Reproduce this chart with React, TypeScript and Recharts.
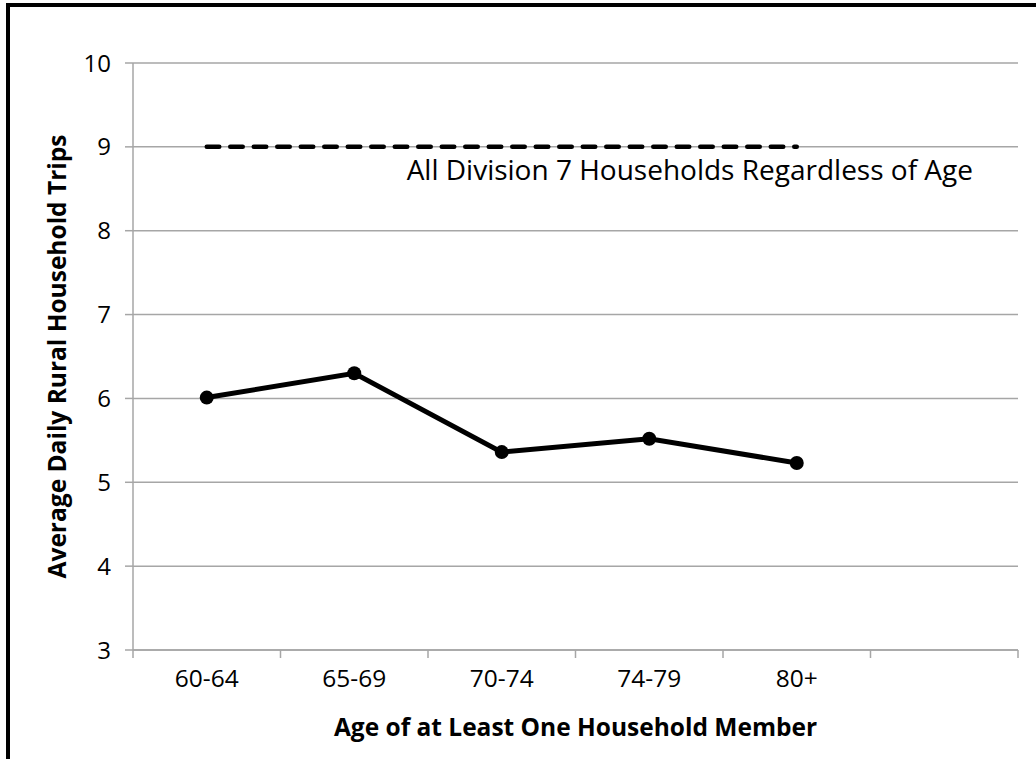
import { CartesianGrid, Label, Line, LineChart, ReferenceLine, XAxis, YAxis } from "recharts"

const ageGroups = ["60-64", "65-69", "70-74", "74-79", "80+", ""]
const avgTrips = [6.01, 6.3, 5.36, 5.52, 5.23, null]
const allHouseholds = [9, 9, 9, 9, 9, null]
const yTicks = [3, 4, 5, 6, 7, 8, 9, 10]
const bandEdges = [0, 1, 2, 3, 4, 5, 6]

const data = ageGroups.map((age, i) => ({
  age,
  slot: i,
  trips: avgTrips[i],
  all: allHouseholds[i],
}))

const FONT = "'Open Sans', sans-serif"
const GRID = "#a6a6a6"

export default function App() {
  return (
    <div style={{ position: "fixed", left: 0, top: 0, width: 1036, height: 759, overflow: "hidden", background: "#fff" }}>
      <div style={{ position: "absolute", left: 6, top: 3, width: 1200, height: 1000, border: "4px solid #000", boxSizing: "border-box" }} />
      <div style={{ position: "absolute", left: 0, top: 0 }}>
        <LineChart width={1036} height={759} data={data} margin={{ top: 63, right: 18, bottom: 18, left: 23 }} style={{ fontFamily: FONT }}>
          <CartesianGrid xAxisId="axis" vertical={false} stroke={GRID} strokeWidth={1.5} />
          {/* axis line and tick marks on the category boundaries */}
          <XAxis
            xAxisId="axis"
            dataKey="slot"
            type="number"
            domain={[0, 6]}
            ticks={bandEdges}
            allowDataOverflow
            height={1}
            stroke={GRID}
            strokeWidth={1.5}
            tickSize={8}
            tickFormatter={() => ""}
          />
          <XAxis
            xAxisId="labels"
            dataKey="age"
            height={90}
            padding={{ left: 73.75, right: 73.75 }}
            axisLine={false}
            tickLine={false}
            tick={{ fill: "#000", fontSize: 24.5 }}
            tickMargin={13}
            interval={0}
          >
            <Label value="Age of at Least One Household Member" position="insideBottom" offset={5} fill="#000" fontSize={24.5} fontWeight="bold" />
          </XAxis>
          <YAxis
            domain={[3, 10]}
            ticks={yTicks}
            width={110}
            stroke={GRID}
            strokeWidth={1.5}
            tickSize={8}
            tickMargin={14}
            tick={{ fill: "#000", fontSize: 24 }}
          >
            <Label value="Average Daily Rural Household Trips" angle={-90} position="insideLeft" offset={34} fill="#000" fontSize={24.5} fontWeight="bold" style={{ textAnchor: "middle" }} />
          </YAxis>
          <ReferenceLine
            xAxisId="labels"
            y={9}
            stroke="none"
            label={({ viewBox }: any) => (
              <text x={viewBox.x + viewBox.width - 45} y={viewBox.y + 33} textAnchor="end" fill="#000" fontSize={28} fontFamily={FONT}>
                All Division 7 Households Regardless of Age
              </text>
            )}
          />
          <Line
            xAxisId="labels"
            dataKey="all"
            stroke="#000"
            strokeWidth={4.5}
            strokeDasharray="12.5 11"
            strokeLinecap="round"
            dot={false}
            isAnimationActive={false}
          />
          <Line
            xAxisId="labels"
            dataKey="trips"
            stroke="#000"
            strokeWidth={5}
            dot={{ r: 7, fill: "#000", stroke: "none" }}
            isAnimationActive={false}
          />
        </LineChart>
      </div>
    </div>
  )
}
